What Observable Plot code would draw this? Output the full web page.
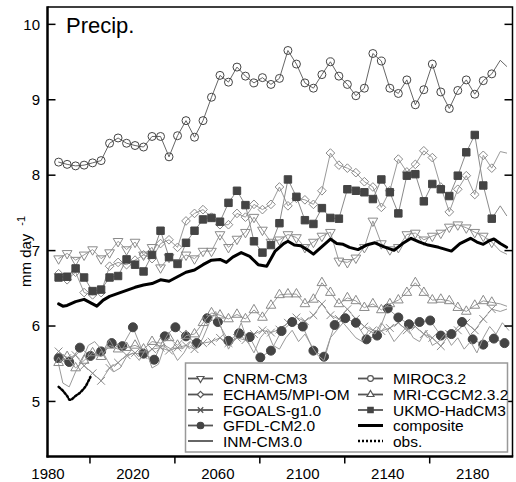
<!DOCTYPE html>
<html><head><meta charset="utf-8">
<script src="https://cdn.jsdelivr.net/npm/d3@7"></script>
<script src="https://cdn.jsdelivr.net/npm/@observablehq/plot@0.6"></script>
<style>
body{margin:0;background:#fff;}
#chart{position:relative;width:516px;height:482px;}
svg text{font-family:"Liberation Sans",Arial,sans-serif;}
</style></head><body><div id="chart"></div>
<script>
// ---- data ----
const years4 = [1985,1989,1993,1997,2001,2005,2009,2013,2017,2021,2025,2029,2033,2037,2041,2045,2049,2053,2057,2061,2065,2069,2073,2077,2081,2085,
  2089,2093,2097,2101,2105,2109,2113,2117,2121,2125,2129,2133,2137,2141,2145,2149,2153,2157,2161,2165,2169,2173,2177,2181,2185,2189,2193,2196];
const years5 = [1985,1990,1995,2000,2005,2010,2015,2020,2025,2030,2035,2040,2045,2050,2055,2060,2065,2070,2075,2080,2085,2090,2095,2100,2105,2110,2115,2120,2125,2130,2135,2140,2145,2150,2155,2160,2165,2170,2175,2180,2185,2190,2195];
const cnrm = [6.90,6.97,6.88,6.95,7.02,6.90,6.98,7.13,7.02,7.12,6.95,7.05,6.78,6.92,6.85,6.95,6.90,7.00,7.00,7.22,7.05,7.16,7.25,7.45,7.28,7.12,
  7.15,7.22,7.18,7.05,7.12,7.20,7.25,6.87,6.85,6.91,7.05,7.40,7.10,7.02,7.05,7.22,7.24,7.15,7.20,7.24,7.32,7.35,7.31,7.25,7.20,7.12,7.00,6.96];
const echam = [6.70,6.62,6.72,6.45,6.42,6.45,6.80,6.85,6.82,6.88,6.95,6.90,7.10,7.15,7.05,7.40,7.50,7.55,7.45,7.35,7.35,7.50,7.45,7.62,7.55,7.62,
  7.85,7.60,7.70,7.68,7.62,7.80,8.30,8.14,8.10,8.04,7.92,7.85,7.58,7.80,8.22,8.05,8.15,8.33,8.24,7.85,7.52,7.82,8.00,7.75,8.27,8.10,8.32,8.30];
const fgoals = [5.67,5.58,5.62,5.48,5.38,5.28,5.45,5.52,5.62,5.65,5.62,5.70,5.72,5.68,5.72,5.75,5.70,5.78,5.80,5.85,5.78,5.85,5.82,5.90,5.95,5.92,
  5.96,6.05,6.12,6.07,6.15,6.30,6.15,6.10,6.23,6.10,6.00,5.95,5.94,5.98,6.05,5.95,6.00,5.90,5.85,5.74,5.90,5.95,6.05,5.95,6.10,6.23,6.20,6.23];
const gfdl = [5.58,5.53,5.72,5.61,5.67,5.78,5.74,5.99,5.64,5.56,5.87,5.99,5.87,5.78,6.11,6.06,5.81,5.91,5.86,5.59,5.68,5.94,6.06,6.00,5.68,5.60,
  6.02,6.11,6.05,5.83,5.88,6.24,6.12,6.03,6.06,6.08,5.88,5.90,6.06,5.83,5.76,5.84,5.78];
const inmYears = [1985,1987,1990,1993,1996,1999,2002,2005,2008,2011,2014,2017,2020,2023,2026,2029,2032,2035,2038,2041,2044,2047,2050,2053,2056,2059,2062,2065,2068,2071,2074,2077,2080,2083,2086,2089,2092,2095,2098,2101,2104,2107,2110,2113,2116,2119,2122,2125,2128,2131,2134,2137,2140,2143,2146,2149,2152,2155,2158,2161,2164,2167,2170,2173,2176,2179,2182,2185,2188,2191,2194,2197];
const inm = [5.50,5.25,5.20,5.40,5.55,5.75,5.80,5.70,5.55,5.40,5.45,5.60,5.65,5.55,5.70,5.45,5.50,5.75,5.70,5.55,5.65,5.80,5.70,5.85,6.05,6.20,5.95,5.70,5.85,6.05,
  5.80,5.65,5.85,5.95,5.75,5.70,5.85,5.95,5.80,5.90,5.75,5.62,5.55,5.85,5.95,6.05,5.95,5.85,5.80,5.95,5.90,6.05,5.95,5.80,5.90,6.00,5.85,5.80,5.95,5.75,
  5.80,5.90,5.75,5.85,5.70,5.80,5.65,5.85,6.00,5.90,6.05,5.95];
const miroc = [8.18,8.15,8.13,8.14,8.17,8.20,8.43,8.50,8.43,8.40,8.38,8.52,8.52,8.25,8.53,8.73,8.51,8.73,9.04,9.33,9.24,9.44,9.32,9.23,9.30,9.21,
  9.29,9.66,9.48,9.23,9.16,9.34,9.51,9.32,9.21,9.06,9.16,9.62,9.52,9.16,9.09,9.27,8.94,9.14,9.48,9.11,8.89,9.13,9.27,9.08,9.26,9.35,9.53,9.45];
const mri = [5.52,5.60,5.45,5.55,5.65,5.60,5.75,5.70,5.72,5.75,5.70,5.80,5.78,5.85,5.75,5.88,5.90,6.05,6.18,6.15,6.10,6.16,6.10,6.22,6.12,6.28,
  6.42,6.43,6.43,6.30,6.36,6.58,6.45,6.30,6.38,6.34,6.25,6.30,6.22,6.30,6.35,6.45,6.58,6.45,6.35,6.36,6.34,6.25,6.20,6.28,6.34,6.32,6.30,6.27];
const ukmo = [6.65,6.66,6.77,6.65,6.47,6.49,6.65,6.67,6.89,6.82,6.73,6.95,7.27,6.92,6.83,7.11,7.27,7.42,7.44,7.39,7.64,7.80,7.61,7.13,6.98,7.08,
  7.37,7.95,7.72,7.41,7.36,7.57,7.44,7.43,7.82,7.80,7.78,7.69,7.95,7.78,7.50,8.00,8.02,7.66,7.89,7.82,7.73,8.00,8.31,8.54,7.87,7.43,7.60,7.47];
const compYears = [1985,1987,1989,1993,1997,2001,2003,2006,2009,2013,2017,2021,2025,2029,2033,2037,2041,2045,2049,2053,2057,2061,2064,2067,2071,2075,2079,2083,2087,2091,
  2093,2096,2099,2102,2105,2109,2113,2116,2119,2122,2126,2130,2134,2138,2143,2147,2151,2155,2159,2164,2170,2174,2179,2182,2185,2188,2190,2193,2196];
const composite = [6.30,6.27,6.28,6.33,6.36,6.30,6.27,6.35,6.40,6.44,6.48,6.52,6.55,6.57,6.62,6.60,6.66,6.72,6.75,6.82,6.88,6.89,6.85,6.92,6.98,6.93,6.82,6.80,7.00,7.10,
  7.13,7.08,7.07,7.02,6.96,7.06,7.16,7.10,7.09,7.05,7.02,7.08,7.11,7.06,7.01,7.10,7.17,7.12,7.08,7.05,7.00,7.10,7.17,7.12,7.09,7.14,7.16,7.10,7.05];
const obsYears = [1985,1987,1989,1990,1991,1993,1995,1997,1998,2000];
const obs = [5.20,5.15,5.08,5.03,5.03,5.08,5.12,5.18,5.22,5.33];
const yTicks = [5,6,7,8,9,10];
const xLabels = [1980,2020,2060,2100,2140,2180];
const xTicks = [2000,2040,2080,2120,2160];

// ---- symbols ----
const S3 = Math.sqrt(3);
const invTri = {draw(ctx, size){const y=-Math.sqrt(size/(S3*3)); ctx.moveTo(0,-y*2); ctx.lineTo(-S3*y,y); ctx.lineTo(S3*y,y); ctx.closePath();}};
const rows = (ys, vs) => ys.map((year,i)=>({year, v: vs[i]}));
const LG = "#9a9a9a";
const series = [
  {name:"CNRM-CM3", data:rows(years4,cnrm), line:LG, lw:1, sym:invTri, r:3.6, fill:"none", stroke:"#8a8a8a"},
  {name:"ECHAM5/MPI-OM", data:rows(years4,echam), line:LG, lw:1, sym:d3.symbolDiamond2, r:3.9, fill:"none", stroke:"#8a8a8a"},
  {name:"FGOALS-g1.0", data:rows(years4,fgoals), line:LG, lw:1, sym:d3.symbolTimes, r:3.6, fill:"none", stroke:"#8a8a8a"},
  {name:"GFDL-CM2.0", data:rows(years5,gfdl), line:LG, lw:1, sym:d3.symbolCircle, r:4.5, fill:"#444", stroke:"#444", all:true},
  {name:"INM-CM3.0", data:rows(inmYears,inm), line:LG, lw:1, sym:null},
  {name:"MIROC3.2", data:rows(years4,miroc), line:"#555", lw:0.9, sym:d3.symbolCircle, r:4, fill:"none", stroke:"#444"},
  {name:"MRI-CGCM2.3.2", data:rows(years4,mri), line:LG, lw:1, sym:d3.symbolTriangle, r:3.6, fill:"none", stroke:"#8a8a8a"},
  {name:"UKMO-HadCM3", data:rows(years4,ukmo), line:"#8a8a8a", lw:1, sym:d3.symbolSquare, r:4.2, fill:"#444", stroke:"#444"},
];
const compRows = rows(compYears, composite);
const obsRows = rows(obsYears, obs);

const marks = [];
for (const s of series) {
  marks.push(Plot.line(s.data, {x:"year", y:"v", stroke:s.line, strokeWidth:s.lw}));
  if (s.sym) marks.push(Plot.dot(s.all ? s.data : s.data.filter(d=>d.year<=2189), {x:"year", y:"v", symbol:s.sym, r:s.r, fill:s.fill, stroke:s.stroke, strokeWidth:1}));
}
marks.push(Plot.line(compRows, {x:"year", y:"v", stroke:"black", strokeWidth:3}));
marks.push(Plot.line(obsRows, {x:"year", y:"v", stroke:"black", strokeWidth:2.5, strokeDasharray:"2,2"}));
marks.push(Plot.axisX(xLabels, {tickSize:0, tickPadding:11, tickFormat:d=>String(d), fontSize:15, label:null, color:"black"}));
marks.push(Plot.axisY(yTicks, {tickSize:0, tickPadding:8, tickFormat:d=>String(d), fontSize:15, label:null, color:"black"}));

const plot = Plot.plot({
  width:516, height:482,
  marginTop:7, marginBottom:25.5, marginLeft:47.5, marginRight:3.5,
  style:{fontFamily:"Liberation Sans, Arial, sans-serif", fontSize:"15px", background:"white", color:"black"},
  x:{domain:[1980,2199]}, y:{domain:[4.27,10.23]},
  marks
});
document.getElementById("chart").appendChild(plot);

// ---- frame, ticks, titles, legend (drawn with lines/paths) ----
const svg = d3.select(plot);
const xs = plot.scale("x"), ys = plot.scale("y");
const L = xs.apply(1980), R = xs.apply(2199), B = ys.apply(4.27), T = ys.apply(10.23);
const g = svg.append("g").attr("stroke","black").attr("stroke-width",1.5).attr("fill","none");
g.append("path").attr("d",`M${L},${T}H${R}V${B}`);
for (const v of yTicks) {
  const y = ys.apply(v);
  g.append("line").attr("x1",L).attr("x2",L+8).attr("y1",y).attr("y2",y);
  g.append("line").attr("x1",R).attr("x2",R-8).attr("y1",y).attr("y2",y);
}
for (const v of xTicks) {
  const x = xs.apply(v);
  g.append("line").attr("x1",x).attr("x2",x).attr("y1",B).attr("y2",B+7);
}
g.append("line").attr("x1",L).attr("x2",L).attr("y1",T-0.75).attr("y2",B+1).attr("stroke-width",2.5);
g.append("line").attr("x1",L-1).attr("x2",R+0.75).attr("y1",B).attr("y2",B).attr("stroke-width",2.5);

svg.append("text").attr("x",66).attr("y",33).attr("text-anchor","start").attr("font-size",22).attr("fill","black").text("Precip.");
const yt = svg.append("text").attr("transform","translate(31,287) rotate(-90)").attr("text-anchor","start").attr("font-size",15).attr("fill","black");
yt.append("tspan").text("mm day");
yt.append("tspan").attr("dx",8).attr("dy",-6).attr("font-size",11).text("-1");

// legend
const lg = svg.append("g");
lg.append("path").attr("d","M185.5,363H507.5V452H185.5Z").attr("fill","white").attr("stroke","#999").attr("stroke-width",1.5);
const entries = [
  ...series.map(s=>({name:s.name, line:"#555", lw:1.8, sym:s.sym, r:s.r*0.72, fill:s.fill, stroke:s.sym? (s.fill==="none"?"#555":"#444"):null})),
  {name:"composite", line:"black", lw:3, sym:null},
  {name:"obs.", line:"black", lw:2.5, dash:"2,2", sym:null}
];
const rowY = [378.5, 394.5, 410, 425.5, 441];
entries.forEach((e,i)=>{
  const col = i<5 ? 0 : 1, row = i%5;
  const x0 = col===0 ? 188 : 358, x1 = x0+25, tx = col===0 ? 223 : 393, y = rowY[row];
  lg.append("line").attr("x1",x0).attr("x2",x1).attr("y1",y).attr("y2",y).attr("stroke",e.line).attr("stroke-width",e.lw).attr("stroke-dasharray",e.dash||null);
  if (e.sym) lg.append("path").attr("transform",`translate(${(x0+x1)/2},${y})`).attr("d",d3.symbol(e.sym, Math.PI*e.r*e.r)()).attr("fill",e.fill==="none"?"white":e.fill).attr("stroke",e.stroke).attr("stroke-width",1.2);
  lg.append("text").attr("x",tx).attr("y",y+5.5).attr("text-anchor","start").attr("font-size",15.5).attr("fill","black").text(e.name);
});
</script>
</body></html>
